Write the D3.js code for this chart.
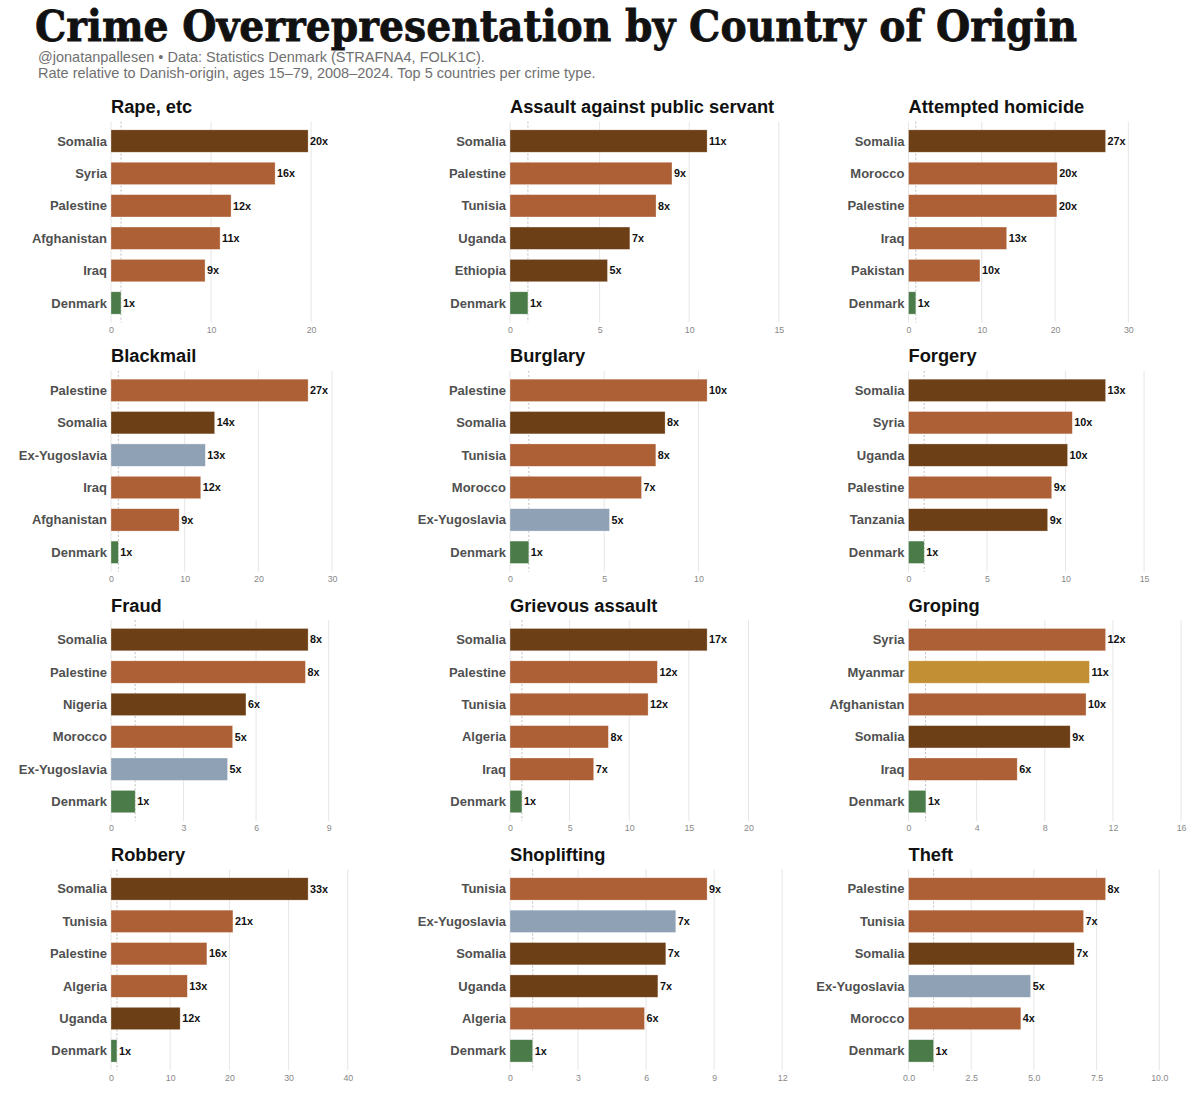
<!DOCTYPE html>
<html>
<head>
<meta charset="utf-8">
<script src="https://cdn.jsdelivr.net/npm/d3@7"></script>
<style>
  html, body { margin: 0; padding: 0; background: #fff; }
  svg { display: block; }
</style>
</head>
<body>
<svg id="chart" width="1200" height="1097"></svg>
<script>
// ---------- DATA ----------
const crimes = [
  "Rape, etc", "Assault against public servant", "Attempted homicide",
  "Blackmail", "Burglary", "Forgery",
  "Fraud", "Grievous assault", "Groping",
  "Robbery", "Shoplifting", "Theft"
];

const countriesRape        = ["Somalia", "Syria", "Palestine", "Afghanistan", "Iraq", "Denmark"];
const valuesRape           = [19.7, 16.4, 12.0, 10.9, 9.4, 1.0];

const countriesAssault     = ["Somalia", "Palestine", "Tunisia", "Uganda", "Ethiopia", "Denmark"];
const valuesAssault        = [11.0, 9.04, 8.15, 6.69, 5.44, 1.0];

const countriesAttempted   = ["Somalia", "Morocco", "Palestine", "Iraq", "Pakistan", "Denmark"];
const valuesAttempted      = [26.9, 20.3, 20.25, 13.4, 9.75, 1.0];

const countriesBlackmail   = ["Palestine", "Somalia", "Ex-Yugoslavia", "Iraq", "Afghanistan", "Denmark"];
const valuesBlackmail      = [26.75, 14.07, 12.8, 12.18, 9.25, 1.0];

const countriesBurglary    = ["Palestine", "Somalia", "Tunisia", "Morocco", "Ex-Yugoslavia", "Denmark"];
const valuesBurglary       = [10.46, 8.23, 7.74, 6.98, 5.28, 1.0];

const countriesForgery     = ["Somalia", "Syria", "Uganda", "Palestine", "Tanzania", "Denmark"];
const valuesForgery        = [12.55, 10.43, 10.13, 9.12, 8.86, 1.0];

const countriesFraud       = ["Somalia", "Palestine", "Nigeria", "Morocco", "Ex-Yugoslavia", "Denmark"];
const valuesFraud          = [8.15, 8.04, 5.58, 5.03, 4.82, 1.0];

const countriesGrievous    = ["Somalia", "Palestine", "Tunisia", "Algeria", "Iraq", "Denmark"];
const valuesGrievous       = [16.53, 12.36, 11.58, 8.25, 7.02, 1.0];

const countriesGroping     = ["Syria", "Myanmar", "Afghanistan", "Somalia", "Iraq", "Denmark"];
const valuesGroping        = [11.57, 10.62, 10.42, 9.49, 6.38, 1.02];

const countriesRobbery     = ["Somalia", "Tunisia", "Palestine", "Algeria", "Uganda", "Denmark"];
const valuesRobbery        = [33.3, 20.6, 16.2, 12.9, 11.68, 1.0];

const countriesShoplifting = ["Tunisia", "Ex-Yugoslavia", "Somalia", "Uganda", "Algeria", "Denmark"];
const valuesShoplifting    = [8.69, 7.31, 6.87, 6.52, 5.93, 1.0];

const countriesTheft       = ["Palestine", "Tunisia", "Somalia", "Ex-Yugoslavia", "Morocco", "Denmark"];
const valuesTheft          = [7.86, 6.98, 6.61, 4.87, 4.48, 1.0];

const ticksRape        = [0, 10, 20];
const ticksAssault     = [0, 5, 10, 15];
const ticksAttempted   = [0, 10, 20, 30];
const ticksBlackmail   = [0, 10, 20, 30];
const ticksBurglary    = [0, 5, 10];
const ticksForgery     = [0, 5, 10, 15];
const ticksFraud       = [0, 3, 6, 9];
const ticksGrievous    = [0, 5, 10, 15, 20];
const ticksGroping     = [0, 4, 8, 12, 16];
const ticksRobbery     = [0, 10, 20, 30, 40];
const ticksShoplifting = [0, 3, 6, 9, 12];
const ticksTheft       = [0, 2.5, 5, 7.5, 10];

// region groups (for colour)
const groupSubSaharan = ["Somalia", "Uganda", "Ethiopia", "Nigeria", "Tanzania"];
const groupMENA       = ["Syria", "Palestine", "Afghanistan", "Iraq", "Tunisia", "Morocco", "Pakistan", "Algeria"];
const groupBalkans    = ["Ex-Yugoslavia"];
const groupAsia       = ["Myanmar"];
const groupDenmark    = ["Denmark"];

const titleText = "Crime Overrepresentation by Country of Origin";
const subtitle1 = "@jonatanpallesen \u2022 Data: Statistics Denmark (STRAFNA4, FOLK1C).";
const subtitle2 = "Rate relative to Danish-origin, ages 15\u201379, 2008\u20132024. Top 5 countries per crime type.";

// ---------- BUILD ----------
const panelCountries = [countriesRape, countriesAssault, countriesAttempted, countriesBlackmail,
  countriesBurglary, countriesForgery, countriesFraud, countriesGrievous, countriesGroping,
  countriesRobbery, countriesShoplifting, countriesTheft];
const panelValues = [valuesRape, valuesAssault, valuesAttempted, valuesBlackmail,
  valuesBurglary, valuesForgery, valuesFraud, valuesGrievous, valuesGroping,
  valuesRobbery, valuesShoplifting, valuesTheft];
const panelTicks = [ticksRape, ticksAssault, ticksAttempted, ticksBlackmail,
  ticksBurglary, ticksForgery, ticksFraud, ticksGrievous, ticksGroping,
  ticksRobbery, ticksShoplifting, ticksTheft];

const colorScale = d3.scaleOrdinal()
  .domain([...groupSubSaharan, ...groupMENA, ...groupBalkans, ...groupAsia, ...groupDenmark])
  .range([
    ...groupSubSaharan.map(() => "#6d3f16"),
    ...groupMENA.map(() => "#ad5f35"),
    ...groupBalkans.map(() => "#8fa1b4"),
    ...groupAsia.map(() => "#c38f35"),
    ...groupDenmark.map(() => "#4a7b48")
  ]);

const svg = d3.select("#chart");
const sans = "'Liberation Sans', Arial, Helvetica, sans-serif";

svg.append("text")
  .attr("x", 35).attr("y", 41)
  .attr("font-family", "'DejaVu Serif', 'Liberation Serif', serif")
  .attr("font-weight", "bold")
  .attr("font-size", 43)
  .attr("fill", "#111")
  .attr("stroke", "#111").attr("stroke-width", 0.8)
  .attr("textLength", 1042)
  .attr("lengthAdjust", "spacingAndGlyphs")
  .text(titleText);

svg.append("text")
  .attr("x", 38).attr("y", 62)
  .attr("font-family", sans).attr("font-size", 14.5)
  .attr("fill", "#707070")
  .text(subtitle1);
svg.append("text")
  .attr("x", 38).attr("y", 78)
  .attr("font-family", sans).attr("font-size", 14.5)
  .attr("fill", "#707070")
  .text(subtitle2);

const colX = [111, 510, 908.5];
const plotW = 273;
const plotH = 200.8;
const firstTop = 121.6;
const rowStep = 249.3;

crimes.forEach((crime, i) => {
  const col = i % 3, row = Math.floor(i / 3);
  const x0 = colX[col];
  const top = firstTop + row * rowStep;
  const countries = panelCountries[i];
  const values = panelValues[i];
  const ticks = panelTicks[i];
  const data = countries.map((c, k) => ({ country: c, value: values[k] }));

  const x = d3.scaleLinear()
    .domain([0, d3.max(values) * 1.385])
    .range([x0, x0 + plotW]);
  const y = d3.scaleBand()
    .domain(countries)
    .range([top, top + plotH])
    .paddingInner(0.31)
    .paddingOuter(0.255);

  const g = svg.append("g");

  // panel title
  g.append("text")
    .attr("x", x0).attr("y", top - 8.5)
    .attr("font-family", sans).attr("font-weight", "bold")
    .attr("font-size", 18.3).attr("fill", "#111")
    .text(crime);

  // gridlines
  g.selectAll("line.grid").data(ticks).enter().append("line")
    .attr("class", "grid")
    .attr("x1", d => x(d)).attr("x2", d => x(d))
    .attr("y1", top).attr("y2", top + plotH)
    .attr("stroke", "#e6e6e6").attr("stroke-width", 1);

  // reference line at 1x
  g.append("line")
    .attr("x1", x(1)).attr("x2", x(1))
    .attr("y1", top).attr("y2", top + plotH)
    .attr("stroke", "#b8b8b8").attr("stroke-width", 0.9)
    .attr("stroke-dasharray", "2,2");

  // x axis tick labels
  const fmt = ticks.some(t => t % 1 !== 0) ? d3.format(".1f") : d3.format("d");
  const axis = d3.axisBottom(x).tickValues(ticks).tickFormat(fmt).tickSize(0).tickPadding(3);
  const ag = g.append("g").attr("transform", `translate(0,${top + plotH + 1})`).call(axis);
  ag.select(".domain").remove();
  ag.selectAll("text")
    .attr("font-family", sans).attr("font-size", 8.8).attr("fill", "#888");

  // bars
  g.selectAll("rect.bar").data(data).enter().append("rect")
    .attr("class", "bar")
    .attr("x", x(0))
    .attr("y", d => y(d.country))
    .attr("width", d => x(d.value) - x(0))
    .attr("height", y.bandwidth())
    .attr("fill", d => colorScale(d.country))
    .attr("stroke", "#ffffff").attr("stroke-opacity", 0.5).attr("stroke-width", 0.6);

  // country labels
  g.selectAll("text.cat").data(data).enter().append("text")
    .attr("class", "cat")
    .attr("x", x0 - 4)
    .attr("y", d => y(d.country) + y.bandwidth() / 2)
    .attr("dy", "0.35em")
    .attr("text-anchor", "end")
    .attr("font-family", sans).attr("font-weight", "bold")
    .attr("font-size", 13).attr("fill", "#505050")
    .text(d => d.country);

  // value labels
  g.selectAll("text.val").data(data).enter().append("text")
    .attr("class", "val")
    .attr("x", d => x(d.value) + 2)
    .attr("y", d => y(d.country) + y.bandwidth() / 2)
    .attr("dy", "0.35em")
    .attr("font-family", sans).attr("font-weight", "bold")
    .attr("font-size", 10.8).attr("fill", "#111")
    .text(d => Math.round(d.value) + "x");
});
</script>
</body>
</html>
